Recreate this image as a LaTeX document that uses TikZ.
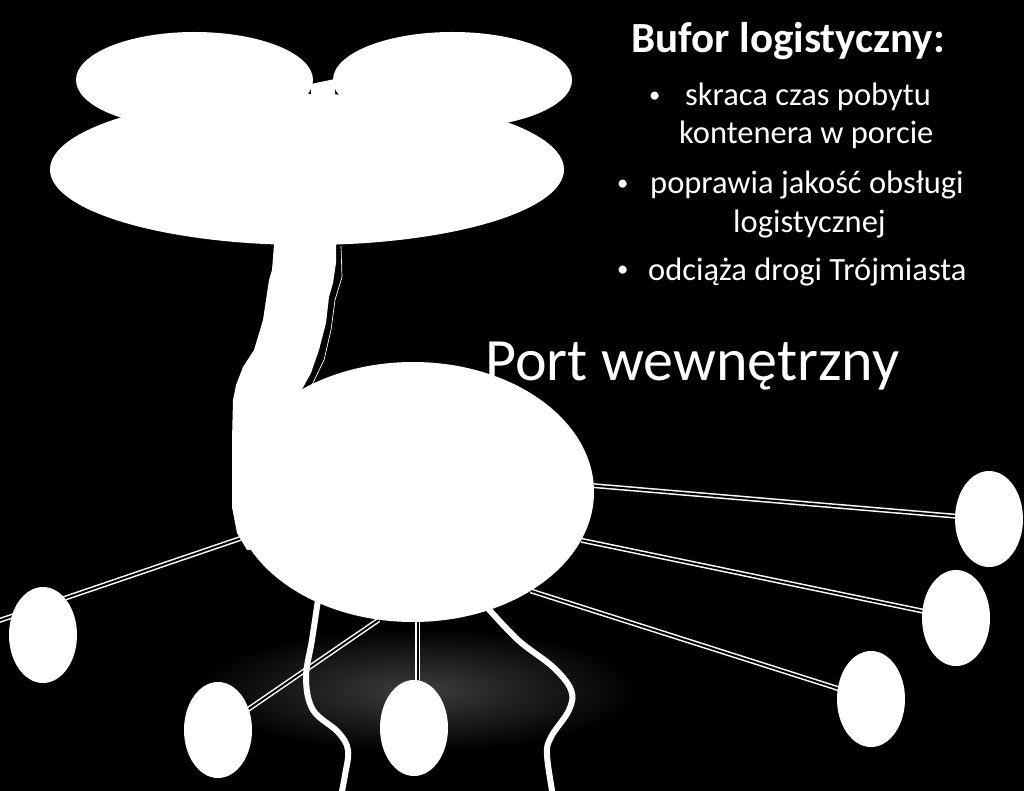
\documentclass[tikz,border=0pt]{standalone}
\usepackage{fontspec}
\usepackage{graphicx}
\setmainfont{Carlito}
\usetikzlibrary{shapes.geometric}
\pgfdeclarelayer{back}
\pgfdeclarelayer{bg}
\pgfsetlayers{back,bg,main}
\newcommand{\blt}{\raisebox{3pt}{\scalebox{0.7}{•}}}
\begin{document}
\begin{tikzpicture}[x=1pt,y=-1pt,
  blob/.style={ellipse,fill=white,draw=none,inner sep=0pt},
  sat/.style={blob,minimum width=68pt,minimum height=96pt},
  dline/.style={draw=white,double=black,line width=1.5pt,double distance=2pt},
  road/.style={draw=white,line width=6pt,line cap=butt},
  txt/.style={text=white,inner sep=0pt,anchor=base west}]
\useasboundingbox (0,0) rectangle (1024,791);
\begin{pgfonlayer}{back}
  \fill[black] (0,0) rectangle (1024,791);
  \shade[inner color=white!24!black,outer color=black] (418,690) ellipse [x radius=220pt,y radius=62pt];
\end{pgfonlayer}

% clouds
\node[blob,minimum width=237pt,minimum height=96pt] (cloudL) at (194.5,80) {};
\node[blob,minimum width=239pt,minimum height=96pt] (cloudR) at (452.5,80) {};
\fill[white] (311,84) -- (335,79) -- (335,110) -- (311,110) -- cycle;
\node[blob,minimum width=514pt,minimum height=151pt] (cloudB) at (307,169.5) {};

% port
\node[blob,minimum width=362pt,minimum height=260pt] (port) at (413,492) {};

% stem
\fill[white] (274,238) -- (274,245) -- (272,270) -- (269,280) -- (263,320) -- (254,350) -- (243,367) -- (236,385) -- (233,400) -- (232,440) -- (232,507) -- (237,533) -- (247,550) -- (300,545) -- (300,393) -- (311,373) -- (319,350) -- (326,323) -- (329,297) -- (333,283) -- (336,263) -- (336,238) -- cycle;
\draw[white,line width=0.7pt] (341,246) -- (342,277) -- (335,300) -- (331,330) -- (324,360) -- (311,387) -- (304,392);

% satellites
\node[sat] (sL)  at (43,635) {};
\node[sat] (sBL) at (218,730) {};
\node[sat] (sBM) at (414,728) {};
\node[sat] (sRT) at (989,519) {};
\node[sat] (sRM) at (956,618) {};
\node[sat] (sRL) at (871,699) {};
\coordinate (edgeL) at (-5,622);

\begin{pgfonlayer}{bg}
  \draw[dline] (port.2) -- (sRT.center);
  \draw[dline] (port.-16) -- (sRM.center);
  \draw[dline] (port.-40) -- (sRL.center);
  \draw[dline] (port.195) -- (edgeL);
  \draw[dline] (port.255) -- (sBL.center);
  \draw[dline] (port.272) -- (port.272 |- sBM.center);
  \draw[road] (port.262) plot[smooth,tension=0.6] coordinates {(318,600) (312,640) (306,678) (313,710) (338,732) (348,750) (345,775) (341,796)};
  \draw[road] (port.300) plot[smooth,tension=0.6] coordinates {(485,605) (518,640) (553,667) (571,690) (569,710) (551,737) (547,755) (553,796)};
\end{pgfonlayer}

% texts
\node[txt,font=\fontsize{60}{72}\selectfont] (portlabel) at (485,380) {Port wewnętrzny};
\node[txt,font=\bfseries\fontsize{43}{52}\selectfont] (title) at (631,53) {Bufor logistyczny:};
\begin{scope}[every node/.style={txt,font=\fontsize{32.5}{39}\selectfont}]
  \node (b1) at (649,106) {\blt};
  \node (l1) at (685,106) {skraca czas pobytu};
  \node (l2) at (679,144) {kontenera w porcie};
  \node (b2) at (617,194) {\blt};
  \node (l3) at (650,194) {poprawia jakość obsługi};
  \node (l4) at (733,233) {logistycznej};
  \node (b3) at (617,280) {\blt};
  \node (l5) at (648,280) {odciąża drogi Trójmiasta};
\end{scope}
\end{tikzpicture}
\end{document}
